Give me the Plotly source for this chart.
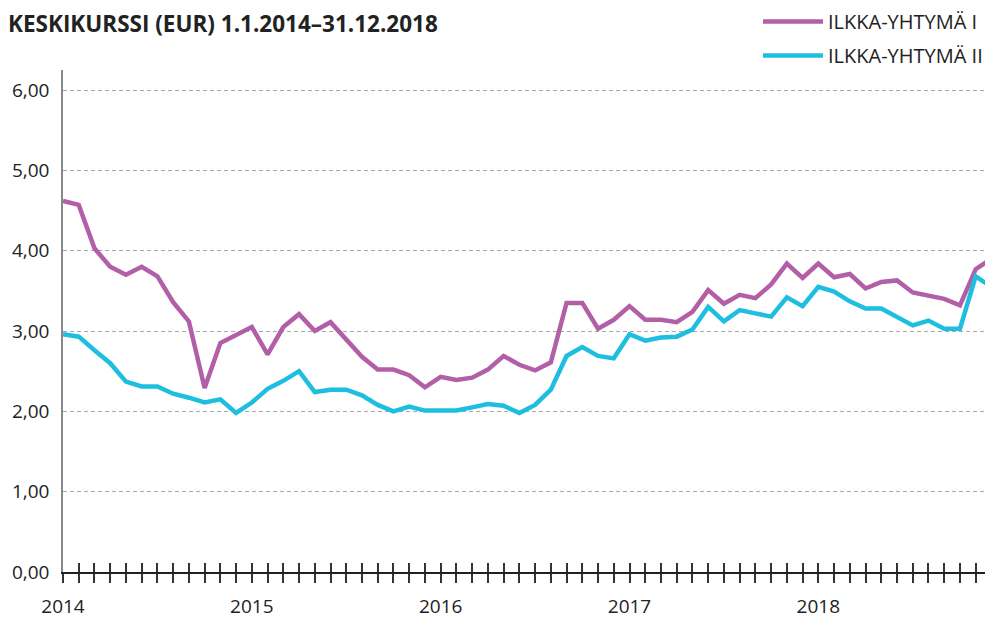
import plotly.graph_objects as go

months = list(range(60))  # Jan 2014 ... Dec 2018
year_labels = ["2014", "2015", "2016", "2017", "2018"]
year_positions = [0, 12, 24, 36, 48]

ilkka_1 = [4.62, 4.57, 4.03, 3.80, 3.70, 3.80, 3.68, 3.36, 3.12, 2.29,
           2.85, 2.95, 3.05, 2.71, 3.05, 3.21, 3.00, 3.11, 2.89, 2.68,
           2.52, 2.52, 2.45, 2.30, 2.43, 2.39, 2.42, 2.52, 2.69, 2.58,
           2.51, 2.61, 3.35, 3.35, 3.03, 3.14, 3.31, 3.14, 3.14, 3.11,
           3.24, 3.51, 3.34, 3.45, 3.41, 3.58, 3.84, 3.66, 3.84, 3.67,
           3.71, 3.53, 3.61, 3.63, 3.48, 3.44, 3.40, 3.32, 3.77, 3.90]
ilkka_2 = [2.96, 2.93, 2.76, 2.60, 2.37, 2.31, 2.31, 2.22, 2.17, 2.11,
           2.15, 1.98, 2.11, 2.28, 2.38, 2.50, 2.24, 2.27, 2.27, 2.20,
           2.08, 2.00, 2.06, 2.01, 2.01, 2.01, 2.05, 2.09, 2.07, 1.98,
           2.08, 2.27, 2.69, 2.80, 2.69, 2.66, 2.96, 2.88, 2.92, 2.93,
           3.02, 3.30, 3.12, 3.26, 3.22, 3.18, 3.42, 3.31, 3.55, 3.49,
           3.37, 3.28, 3.28, 3.18, 3.07, 3.13, 3.03, 3.03, 3.68, 3.55]
y_ticks = [0, 1, 2, 3, 4, 5, 6]

PURPLE = "#B25FA8"
CYAN = "#1EBEE0"
FONT = "Open Sans"
TXT = "#222"

fig = go.Figure()
fig.add_trace(go.Scatter(x=months, y=ilkka_1, mode="lines", name="ILKKA-YHTYMÄ I",
                         legendgroup="a", line=dict(color=PURPLE, width=4.5)))
fig.add_trace(go.Scatter(x=months, y=ilkka_2, mode="lines", name="ILKKA-YHTYMÄ II",
                         legendgroup="b", line=dict(color=CYAN, width=4.5)))
# invisible trace on an overlay axis to draw the upper half of the cross ticks
fig.add_trace(go.Scatter(x=months, y=ilkka_2, xaxis="x2", mode="none",
                         showlegend=False, hoverinfo="skip"))

tick_text = [year_labels[year_positions.index(m)] if m in year_positions else "" for m in months]

# the page body has an 8px margin, so the figure is sized to end at the window edge
FIG_W, FIG_H = 985, 612
M_L, M_R, M_T, M_B = 55, 0, 62, 48
PLOT_W = FIG_W - M_L - M_R
PLOT_H = FIG_H - M_T - M_B

fig.update_layout(
    width=FIG_W, height=FIG_H,
    margin=dict(l=M_L, r=M_R, t=M_T, b=M_B, autoexpand=False),
    paper_bgcolor="white", plot_bgcolor="white",
    separators=", ",
    font=dict(family=FONT, size=19, color=TXT),
    showlegend=True,
    legend=dict(xref="paper", yref="paper",
                x=(750 - M_L) / PLOT_W, xanchor="left",
                y=(FIG_H - M_B + 6) / PLOT_H, yanchor="top",
                font=dict(size=20, color=TXT), tracegroupgap=5,
                itemwidth=60, bgcolor="rgba(0,0,0,0)"),
    xaxis=dict(range=[0, 59.1], tickmode="array", tickvals=months, ticktext=tick_text,
               ticks="outside", ticklen=9, tickwidth=1.5, tickcolor="#333",
               showline=True, linecolor="#222", linewidth=1.5,
               showgrid=False, zeroline=False, tickfont=dict(size=19, color=TXT),
               ticklabelstandoff=7, automargin=False),
    xaxis2=dict(range=[0, 59.1], overlaying="x", side="bottom", anchor="y",
                tickmode="array", tickvals=months, showticklabels=False,
                ticks="inside", ticklen=9, tickwidth=1.5, tickcolor="#333",
                showline=False, showgrid=False, zeroline=False, automargin=False),
    yaxis=dict(range=[0, 6.25], tickmode="array", tickvals=y_ticks, tickformat=".2f",
               showgrid=True, gridcolor="#a8a8a8", griddash="4px,3px", gridwidth=1,
               showline=True, linecolor="#888", linewidth=1.5,
               zeroline=False, ticks="", tickfont=dict(size=19, color=TXT),
               ticklabelstandoff=8, automargin=False),
    annotations=[dict(
        text="<b>ILKKA-YHTYMÄ OYJ:N OSAKKEIDEN<br>KESKIKURSSI (EUR) 1.1.2014–31.12.2018</b>",
        xref="paper", yref="paper", x=(6 - 63) / 930, y=(572 - 41) / PLOT_H,
        xanchor="left", yanchor="bottom", align="left", showarrow=False,
        font=dict(family=FONT, size=22.5, color=TXT))],
)

fig.write_html("out.html")
